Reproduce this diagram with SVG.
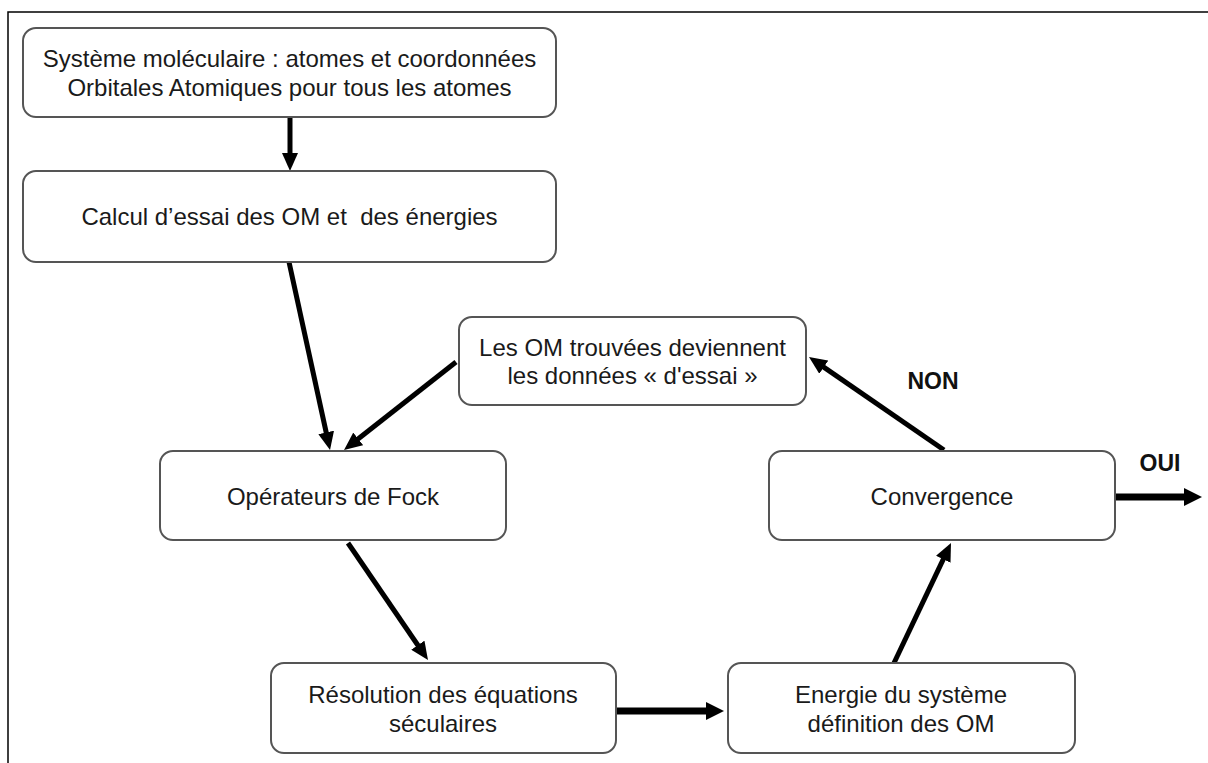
<svg xmlns="http://www.w3.org/2000/svg" width="1208" height="763" viewBox="0 0 1208 763">
<style>
.box{fill:#fff;stroke:#555;stroke-width:2}
.t{font-family:"Liberation Sans",Arial,sans-serif;font-size:24px;fill:#1a1a1a;text-anchor:middle;white-space:pre}
.b{font-family:"Liberation Sans",Arial,sans-serif;font-size:23px;font-weight:bold;fill:#111;text-anchor:middle}
.c{stroke:#000;stroke-width:5;fill:none}
.ch{stroke:#000;stroke-width:7;fill:none}
</style>
<defs>
<marker id="ah" viewBox="0 0 18 16" refX="1" refY="8" markerWidth="18" markerHeight="16" markerUnits="userSpaceOnUse" orient="auto"><path d="M0,0 L18,8 L0,16 z" fill="#000"/></marker>
<marker id="ahL" viewBox="0 0 18 18" refX="1" refY="9" markerWidth="18" markerHeight="18" markerUnits="userSpaceOnUse" orient="auto"><path d="M0,0 L18,9 L0,18 z" fill="#000"/></marker>
</defs>
<rect x="0" y="0" width="1208" height="763" fill="#fff"/>
<rect x="8" y="12" width="1230" height="800" fill="none" stroke="#000" stroke-width="1.5"/>
<g id="connectors">
<line class="c" x1="290" y1="118" x2="290" y2="154" marker-end="url(#ah)"/>
<line class="c" x1="289" y1="262" x2="326.4" y2="433.4" marker-end="url(#ah)"/>
<line class="c" x1="456" y1="362" x2="357.4" y2="439.5" marker-end="url(#ah)"/>
<line class="c" x1="348" y1="543" x2="418.4" y2="646" marker-end="url(#ah)"/>
<line class="ch" x1="616" y1="711" x2="707" y2="711" marker-end="url(#ahL)"/>
<line class="c" x1="894" y1="663" x2="943.7" y2="558.4" marker-end="url(#ah)"/>
<line class="c" x1="944" y1="450" x2="823" y2="366.6" marker-end="url(#ah)"/>
<line class="ch" x1="1115" y1="497" x2="1185" y2="497" marker-end="url(#ahL)"/>
<text class="b" x="933" y="389">NON</text>
<text class="b" x="1160" y="471">OUI</text>
</g>
<g id="n1">
<rect class="box" x="23" y="28" width="533" height="89" rx="13"/>
<text class="t" x="289.5" y="67">Système moléculaire : atomes et coordonnées</text>
<text class="t" x="289.5" y="96">Orbitales Atomiques pour tous les atomes</text>
</g>
<g id="n2">
<rect class="box" x="23" y="171" width="533" height="91" rx="13"/>
<text class="t" x="289.5" y="225">Calcul d’essai des OM et  des énergies</text>
</g>
<g id="n3">
<rect class="box" x="459" y="317" width="347" height="88" rx="13"/>
<text class="t" x="632.5" y="356">Les OM trouvées deviennent</text>
<text class="t" x="632.5" y="384">les données « d'essai »</text>
</g>
<g id="n4">
<rect class="box" x="160" y="451" width="346" height="89" rx="13"/>
<text class="t" x="333" y="505">Opérateurs de Fock</text>
</g>
<g id="n5">
<rect class="box" x="769" y="451" width="346" height="89" rx="13"/>
<text class="t" x="942" y="505">Convergence</text>
</g>
<g id="n6">
<rect class="box" x="271" y="663" width="345" height="90" rx="13"/>
<text class="t" x="443" y="703">Résolution des équations</text>
<text class="t" x="443" y="732">séculaires</text>
</g>
<g id="n7">
<rect class="box" x="728" y="663" width="347" height="90" rx="13"/>
<text class="t" x="901" y="703">Energie du système</text>
<text class="t" x="901" y="732">définition des OM</text>
</g>
</svg>
